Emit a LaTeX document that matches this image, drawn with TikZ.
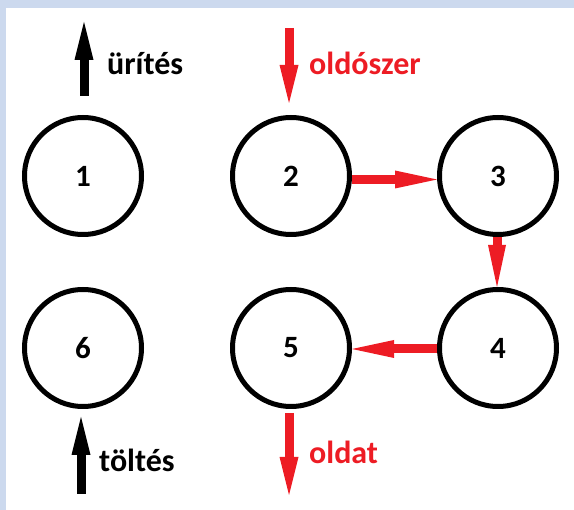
\documentclass[tikz,border=0pt]{standalone}
\usepackage{fontspec}
\setmainfont{Carlito}
\usetikzlibrary{arrows.meta}
\definecolor{framebg}{RGB}{204,217,238}
\definecolor{flowred}{RGB}{237,28,36}
\tikzset{
  vessel/.style={circle, draw=black, line width=5pt, minimum size=117pt, inner sep=0pt,
    font=\fontsize{31}{36}\selectfont\bfseries},
  flow/.style={draw=flowred, line width=9pt, -{Triangle[length=42pt,width=18pt,line width=0pt]}},
  feed/.style={line width=9pt, -{Triangle[length=38pt,width=19pt,line width=0pt]}},
  label/.style={anchor=base west, inner sep=0pt, font=\fontsize{32}{37}\selectfont\bfseries}
}
\begin{document}
\begin{tikzpicture}[x=1pt,y=-1pt]
  % frame
  \useasboundingbox (0,0) rectangle (574,510);
  \fill[framebg] (0,0) rectangle (574,8);
  \fill[framebg] (0,0) rectangle (5.5,510);

  % vessels
  \node[vessel] (c1) at (83,176) {1};
  \node[vessel] (c2) at (291,176) {2};
  \node[vessel] (c3) at (498,176) {3};
  \node[vessel] (c4) at (498,348) {4};
  \node[vessel] (c5) at (291,348) {5};
  \node[vessel] (c6) at (83,348) {6};

  % solvent circulation
  \draw[flow] ([yshift=-3.5pt]c2.east) -- ([yshift=-3.5pt]c3.west);
  \draw[flow] ([xshift=-1pt]c3.south) -- ([xshift=-1pt]c4.north);
  \draw[flow] ([yshift=-1pt]c4.west) -- ([yshift=-1pt]c5.east);

  % inlets and outlets
  \coordinate (u0) at (84,96);  \coordinate (u1) at (84,22);
  \coordinate (s0) at (289,28); \coordinate (s1) at (289,103);
  \coordinate (o0) at (289,413); \coordinate (o1) at (289,495);
  \coordinate (t0) at (81,494); \coordinate (t1) at (81,417);

  \draw[feed, draw=black] (u0) -- (u1);
  \draw[feed, draw=flowred] (s0) -- (s1);
  \draw[feed, draw=flowred] (o0) -- (o1);
  \draw[feed, draw=black] (t0) -- (t1);

  \node[label] (lu) at (107,75) {ürítés};
  \node[label, text=flowred] (ls) at (309,75) {oldószer};
  \node[label, text=flowred] (lo) at (309,464) {oldat};
  \node[label] (lt) at (99,472) {töltés};
\end{tikzpicture}
\end{document}
